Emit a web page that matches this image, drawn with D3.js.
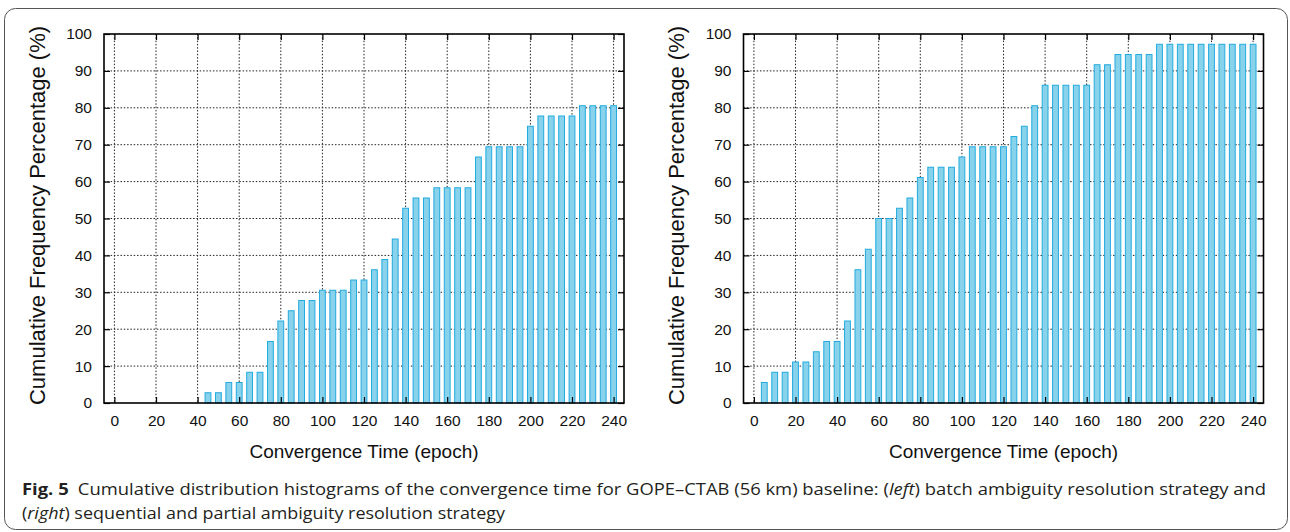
<!DOCTYPE html>
<html>
<head>
<meta charset="utf-8">
<script src="https://cdn.jsdelivr.net/npm/d3@7"></script>
<style>
  body { margin: 0; background: #fff; }
  svg { display: block; }
</style>
</head>
<body>
<svg id="chart" width="1290" height="532"></svg>
<script>
// convergence time bins (epoch)
var epochs = [5, 10, 15, 20, 25, 30, 35, 40, 45, 50, 55, 60, 65, 70, 75, 80,
	85, 90, 95, 100, 105, 110, 115, 120, 125, 130, 135, 140, 145, 150, 155, 160,
	165, 170, 175, 180, 185, 190, 195, 200, 205, 210, 215, 220, 225, 230, 235, 240];

// batch ambiguity resolution (left)
var batchPct = [0, 0, 0, 0, 0, 0, 0, 0, 2.78, 2.78, 5.56, 5.56, 8.33, 8.33, 16.67, 22.22,
	25, 27.78, 27.78, 30.56, 30.56, 30.56, 33.33, 33.33, 36.11, 38.89, 44.44, 52.78, 55.56, 55.56, 58.33, 58.33,
	58.33, 58.33, 66.67, 69.44, 69.44, 69.44, 69.44, 75, 77.78, 77.78, 77.78, 77.78, 80.56, 80.56, 80.56, 80.56];

// sequential and partial ambiguity resolution (right)
var partialPct = [5.56, 8.33, 8.33, 11.11, 11.11, 13.89, 16.67, 16.67, 22.22, 36.11, 41.67, 50, 50, 52.78, 55.56, 61.11,
	63.89, 63.89, 63.89, 66.67, 69.44, 69.44, 69.44, 69.44, 72.22, 75, 80.56, 86.11, 86.11, 86.11, 86.11, 86.11,
	91.67, 91.67, 94.44, 94.44, 94.44, 94.44, 97.22, 97.22, 97.22, 97.22, 97.22, 97.22, 97.22, 97.22, 97.22, 97.22];

var xTicks = [0, 20, 40, 60, 80, 100, 120, 140, 160, 180, 200, 220, 240];
var yTicks = [0, 10, 20, 30, 40, 50, 60, 70, 80, 90, 100];

var yLabel = 'Cumulative Frequency Percentage (%)';
var xLabel = 'Convergence Time (epoch)';

var fontCss = '"Liberation Sans", Arial, sans-serif';
var svg = d3.select('#chart');

// outer rounded box
svg.append('rect')
	.attr('x', 4.5).attr('y', 8.5)
	.attr('width', 1283).attr('height', 521)
	.attr('rx', 11)
	.style('fill', 'none')
	.style('stroke', '#555')
	.style('stroke-width', 1);

function histogram(values, left) {
	var w = 520, h = 369;
	var top = 34;
	var g = svg.append('g').attr('transform', 'translate(' + left + ',' + top + ')');

	var x = d3.scaleLinear().domain([-5, 245]).range([0, w]);
	var y = d3.scaleLinear().domain([0, 100]).range([h, 0]);

	// dotted grid
	g.selectAll('line.gx')
		.data(xTicks)
		.enter()
		.append('line')
		.attr('x1', function(d) { return x(d); })
		.attr('x2', function(d) { return x(d); })
		.attr('y1', 0).attr('y2', h)
		.style('stroke', '#222')
		.style('stroke-dasharray', '1.5,1.8')
		.style('stroke-width', 1);
	g.selectAll('line.gy')
		.data(yTicks.slice(1, -1))
		.enter()
		.append('line')
		.attr('y1', function(d) { return y(d); })
		.attr('y2', function(d) { return y(d); })
		.attr('x1', 0).attr('x2', w)
		.style('stroke', '#222')
		.style('stroke-dasharray', '1.5,1.8')
		.style('stroke-width', 1);

	var bw = x(1.4) - x(-1.4);
	g.selectAll('rect.bar')
		.data(epochs.filter(function(d, i) { return values[i] > 0; }))
		.enter()
		.append('rect')
		.attr('class', 'bar')
		.attr('x', function(d) { return x(d) - bw / 2; })
		.attr('width', bw)
		.attr('y', function(d) { return y(values[epochs.indexOf(d)]); })
		.attr('height', function(d) { return h - y(values[epochs.indexOf(d)]); })
		.style('fill', '#89d2ec')
		.style('stroke', '#22abdf')
		.style('stroke-width', 1);

	// axes, ticks pointing inside
	g.append('g').attr('transform', 'translate(0,' + h + ')')
		.call(d3.axisBottom(x).tickValues(xTicks).tickSize(-6).tickPadding(12));
	g.append('g')
		.call(d3.axisLeft(y).tickValues(yTicks).tickSize(-6).tickPadding(12));
	g.append('g').call(d3.axisTop(x).tickValues(xTicks).tickSize(-6).tickFormat(''));
	g.append('g').attr('transform', 'translate(' + w + ',0)')
		.call(d3.axisRight(y).tickValues(yTicks).tickSize(-6).tickFormat(''));

	g.selectAll('.domain').remove();
	g.selectAll('.tick line').style('stroke', '#000').style('stroke-width', 1.2);
	g.selectAll('.tick text')
		.attr('font-family', null)
		.style('font-family', fontCss)
		.style('font-size', '15.5px')
		.style('fill', '#111');

	g.append('rect')
		.attr('width', w).attr('height', h)
		.style('fill', 'none')
		.style('stroke', '#000')
		.style('stroke-width', 1.6);

	g.append('text')
		.attr('transform', 'translate(' + (-67) + ',' + (h / 2 - 3) + ') rotate(-90)')
		.attr('text-anchor', 'middle')
		.attr('dy', '0.35em')
		.style('font-family', fontCss)
		.style('font-size', '22px')
		.style('fill', '#111')
		.text(yLabel);

	g.append('text')
		.attr('x', w / 2)
		.attr('y', h + 55)
		.attr('text-anchor', 'middle')
		.style('font-family', fontCss)
		.style('font-size', '19px')
		.style('fill', '#111')
		.text(xLabel);
}

histogram(batchPct, 104);
histogram(partialPct, 743.5);

// caption
var capFont = '"Open Sans", "Noto Sans", sans-serif';
var cap1 = svg.append('text')
	.attr('x', 22).attr('y', 495)
	.attr('textLength', 1244)
	.attr('lengthAdjust', 'spacingAndGlyphs')
	.style('font-family', capFont)
	.style('font-size', '16.5px')
	.style('fill', '#231f20');
cap1.append('tspan').style('font-weight', 'bold').text('Fig. 5');
cap1.append('tspan').text('\u2002Cumulative distribution histograms of the convergence time for GOPE\u2013CTAB (56 km) baseline: (');
cap1.append('tspan').style('font-style', 'italic').text('left');
cap1.append('tspan').text(') batch ambiguity resolution strategy and');

var cap2 = svg.append('text')
	.attr('x', 22).attr('y', 519)
	.attr('textLength', 483)
	.attr('lengthAdjust', 'spacingAndGlyphs')
	.style('font-family', capFont)
	.style('font-size', '16.5px')
	.style('fill', '#231f20');
cap2.append('tspan').text('(');
cap2.append('tspan').style('font-style', 'italic').text('right');
cap2.append('tspan').text(') sequential and partial ambiguity resolution strategy');
</script>
</body>
</html>
